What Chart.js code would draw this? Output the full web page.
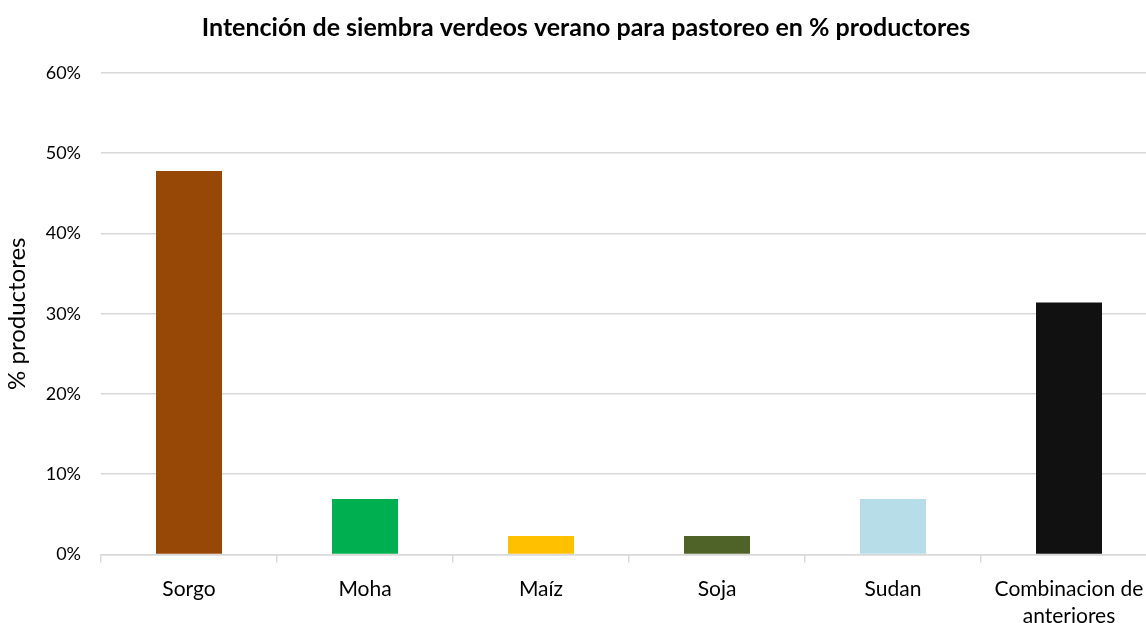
<!DOCTYPE html>
<html>
<head>
<meta charset="utf-8">
<script src="https://cdn.jsdelivr.net/npm/chart.js@4/dist/chart.umd.min.js"></script>
<style>
  html, body { margin: 0; padding: 0; background: #fff; overflow: hidden; }
  #wrap { width: 1172px; height: 643px; }
</style>
</head>
<body>
<div id="wrap"><canvas id="myChart" width="1172" height="643"></canvas></div>
<script>
// --- Data ---
const categories = ["Sorgo", "Moha", "Maíz", "Soja", "Sudan", ["Combinacion de", "anteriores"]];
const values = [47.8, 6.9, 2.3, 2.3, 6.9, 31.4];
const barColors = ["#974706", "#00B050", "#FFC000", "#4F6228", "#B7DEE8", "#111111"];
const yTicks = [0, 10, 20, 30, 40, 50, 60];

const FONT = "Lato, 'Open Sans', sans-serif";
const ctx = document.getElementById("myChart").getContext("2d");

new Chart(ctx, {
  type: "bar",
  data: {
    labels: categories,
    datasets: [{
      data: values,
      backgroundColor: barColors,
      borderWidth: 0,
      barPercentage: 0.375,
      categoryPercentage: 1,
    }],
  },
  options: {
    responsive: false,
    animation: false,
    // left padding + narrower y axis keeps the plot at x=101 but centres the title like the original
    layout: { padding: { left: 15, right: 15, top: 3, bottom: 0 } },
    plugins: {
      legend: { display: false },
      tooltip: { enabled: false },
      title: {
        display: true,
        text: "Intención de siembra verdeos verano para pastoreo en % productores",
        color: "#000",
        font: { family: FONT, size: 25, weight: "bold" },
        padding: { top: 10, bottom: 30 },
      },
    },
    scales: {
      x: {
        grid: {
          display: true,
          drawOnChartArea: false,
          drawTicks: true,
          tickLength: 8,
          offset: true,
          color: "#d9d9d9",
          lineWidth: 1.5,
        },
        border: { display: true, color: "#d9d9d9", width: 1.5 },
        ticks: {
          color: "#000",
          font: { family: FONT, size: 21, lineHeight: 1.3 },
          padding: 13,
          maxRotation: 0,
        },
      },
      y: {
        min: 0,
        max: 60,
        afterBuildTicks: (axis) => { axis.ticks = yTicks.map((v) => ({ value: v })); },
        afterFit: (axis) => { axis.width = 86; },
        grid: { color: "#d9d9d9", lineWidth: 1.5, drawTicks: false },
        border: { display: false },
        ticks: {
          color: "#000",
          font: { family: FONT, size: 18 },
          padding: 20,
          callback: (v) => v + "%",
        },
        title: {
          display: true,
          text: "% productores",
          color: "#000",
          font: { family: FONT, size: 24 },
          padding: { top: -12, bottom: 0 },
        },
      },
    },
  },
});
</script>
</body>
</html>
